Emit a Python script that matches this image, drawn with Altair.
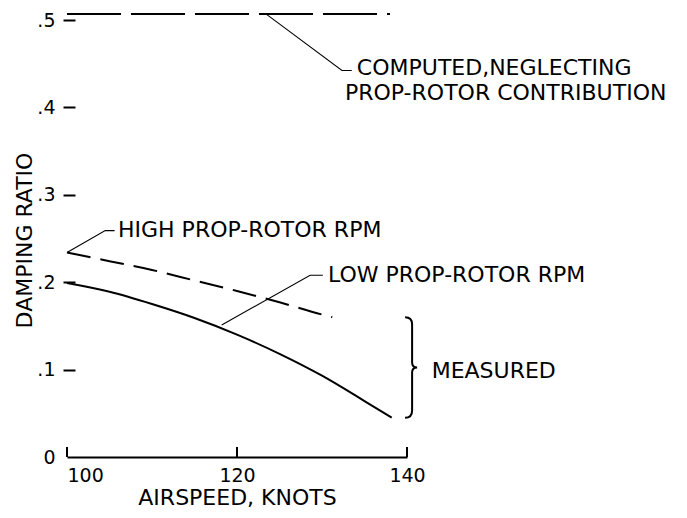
import altair as alt
import pandas as pd

# ---- data ----
computed_knots = [100, 138]
computed_ratio = [0.507, 0.507]

high_knots = [100, 105, 110, 115, 120, 125, 130, 131.2]
high_ratio = [0.234, 0.224, 0.214, 0.202, 0.190, 0.177, 0.163, 0.160]

low_knots = [100, 105, 110, 115, 120, 125, 130, 135, 138.2]
low_ratio = [0.199, 0.189, 0.175, 0.159, 0.140, 0.118, 0.093, 0.064, 0.045]

x_ticks = [100, 120, 140]
y_ticks = [0, 0.1, 0.2, 0.3, 0.4, 0.5]

# annotation leader lines (knots, damping ratio)
leader_group = ["computed"] * 3 + ["high"] * 3 + ["low"] * 3
leader_order = [0, 1, 2] * 3
leader_knots = [123.4, 132.35, 133.5, 100.0, 104.5, 105.6, 118.2, 128.6, 130.1]
leader_ratio = [0.507, 0.4423, 0.4423, 0.234, 0.259, 0.259, 0.151, 0.208, 0.208]

label_text = ["COMPUTED,NEGLECTING", "PROP-ROTOR CONTRIBUTION",
              "HIGH PROP-ROTOR RPM", "LOW PROP-ROTOR RPM", "MEASURED"]
label_knots = [134.1, 132.7, 106.0, 130.7, 142.9]
label_ratio = [0.4451, 0.4166, 0.2600, 0.2080, 0.0989]

brace_knots = [140.6]
brace_ratio = [0.1023]

# ---- tables ----
computed_df = pd.DataFrame({"knots": computed_knots, "ratio": computed_ratio})
high_df = pd.DataFrame({"knots": high_knots, "ratio": high_ratio})
low_df = pd.DataFrame({"knots": low_knots, "ratio": low_ratio})
leader_df = pd.DataFrame({"g": leader_group, "o": leader_order,
                          "knots": leader_knots, "ratio": leader_ratio})
label_df = pd.DataFrame({"text": label_text, "knots": label_knots, "ratio": label_ratio})
brace_df = pd.DataFrame({"knots": brace_knots, "ratio": brace_ratio})
xtick_df = pd.DataFrame({"knots": x_ticks})

FONT = "DejaVu Sans"

x_scale = alt.Scale(domain=[100, 140], nice=False, zero=False)
y_scale = alt.Scale(domain=[0, 0.5], nice=False)

x_axis = alt.Axis(
    values=x_ticks, title="AIRSPEED, KNOTS", ticks=False, grid=False,
    domainColor="black", domainWidth=2, labelFontSize=19, labelPadding=9,
    labelFlush=False, labelColor="black", labelFont=FONT,
    labelAlign={"condition": {"test": "datum.value == 100", "value": "left"}, "value": "center"},
    titleFontSize=22, titleFont=FONT, titleFontWeight="normal", titleColor="black",
    titlePadding=2,
)
y_axis = alt.Axis(
    values=y_ticks, title="DAMPING RATIO", domain=False, grid=False,
    tickSize=12, tickWidth=2, tickColor="black", offset=-8,
    tickOpacity={"condition": {"test": "datum.value == 0", "value": 0}, "value": 1},
    labelPadding=8, labelFontSize=19, labelColor="black", labelFont=FONT,
    labelExpr="datum.value == 0 ? '0' : replace(format(datum.value, '.1f'), '0.', '.')",
    titleFontSize=22, titleFont=FONT, titleFontWeight="normal", titleColor="black",
    titleX=-51, titleY=220, titleBaseline="middle",
)

X = alt.X("knots:Q", scale=x_scale, axis=x_axis)
Y = alt.Y("ratio:Q", scale=y_scale, axis=y_axis)
Xn = alt.X("knots:Q", scale=x_scale)
Yn = alt.Y("ratio:Q", scale=y_scale)

computed = alt.Chart(computed_df).mark_line(
    color="black", strokeWidth=2, strokeDash=[54, 10], clip=False
).encode(x=X, y=Y)

high = alt.Chart(high_df).mark_line(
    color="black", strokeWidth=2, strokeDash=[24, 10], interpolate="monotone", clip=False
).encode(x=Xn, y=Yn)

low = alt.Chart(low_df).mark_line(
    color="black", strokeWidth=2, interpolate="monotone", clip=False
).encode(x=Xn, y=Yn)

leaders = alt.Chart(leader_df).mark_line(
    color="black", strokeWidth=1.1, clip=False
).encode(x=Xn, y=Yn, detail="g:N", order="o:Q")

labels = alt.Chart(label_df).mark_text(
    align="left", baseline="middle", font=FONT, fontSize=22, color="black", clip=False
).encode(x=Xn, y=Yn, text="text:N")

brace = alt.Chart(brace_df).mark_point(
    shape="M -0.14 -1 Q 0 -1 0 -0.86 L 0 -0.1 Q 0 0 0.1 0 Q 0 0 0 0.1 L 0 0.86 Q 0 1 -0.14 1",
    size=10100, filled=False, stroke="black", strokeWidth=2, opacity=1, clip=False
).encode(x=Xn, y=Yn)

xticks = alt.Chart(xtick_df).mark_rule(color="black", strokeWidth=2).encode(
    x=Xn, y=alt.value(427), y2=alt.value(437)
)

chart = alt.layer(computed, high, low, leaders, labels, brace, xticks).properties(
    width=340, height=437,
    background="white",
    autosize=alt.AutoSizeParams(type="none"),
    padding={"left": 59, "top": 12, "right": 272, "bottom": 58},
).configure_view(strokeWidth=0, stroke=None)

chart.save("out.html", embed_options={"renderer": "svg", "actions": False})
